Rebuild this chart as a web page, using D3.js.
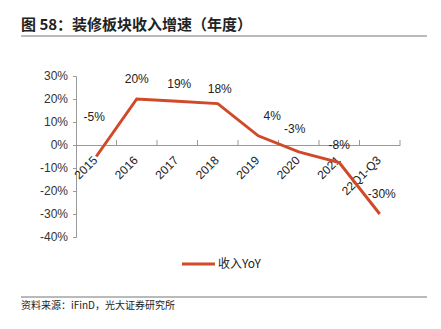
<!DOCTYPE html>
<html><head><meta charset="utf-8">
<script src="https://cdn.jsdelivr.net/npm/d3@7/dist/d3.min.js"></script>
<style>
body{margin:0;background:#fff;}
svg{display:block;font-family:"Liberation Sans",Arial,sans-serif;}
</style></head>
<body>
<svg id="c" width="441" height="329"></svg>
<script>
const categories = ["2015","2016","2017","2018","2019","2020","2021","22Q1-Q3"];
const revenueYoY = [-5, 20, 19, 18, 4, -3, -7.6, -30];
const yTicks = [30, 20, 10, 0, -10, -20, -30, -40];
const seriesName = "收入YoY";
const title = "图 58：装修板块收入增速（年度）";
const source = "资料来源：iFinD，光大证券研究所";
// label nudges (layout only): [dx, dy] relative to default position above point
const labelNudge = [[-2,-20],[0,0],[2,3],[2,5],[14,0],[-4,-3],[0,3],[2,0]];

const svg = d3.select("#c");
const color = "#D04A2A";

// title
svg.append("text").attr("x",21).attr("y",30).attr("font-size",15).attr("font-weight","bold")
  .attr("fill","#222").attr("font-family","'Noto Sans CJK SC',sans-serif").text(title);
svg.append("line").attr("x1",21).attr("x2",427).attr("y1",36).attr("y2",36)
  .attr("stroke","#777").attr("stroke-width",1.2);

const x = d3.scaleBand().domain(categories).range([76,400]);
const y = d3.scaleLinear().domain([-40,30]).range([237,76]);

const g = svg.append("g");
// y axis
const ya = g.append("g").attr("transform","translate(76,0)")
  .call(d3.axisLeft(y).tickValues(yTicks).tickSize(3).tickPadding(5).tickFormat(d=>d+"%"));
ya.select(".domain").attr("stroke","#999");
ya.selectAll(".tick line").attr("stroke","#999");
ya.selectAll("text").attr("font-size",12).attr("fill","#333").attr("font-family","'Liberation Sans',Arial,sans-serif");

// x axis at 0
const xa = g.append("g").attr("transform",`translate(0,${y(0)})`)
  .call(d3.axisTop(x).tickValues([]).tickSizeOuter(0));
xa.select(".domain").attr("stroke","#999");
const edges = categories.map(c=>x(c)+x.bandwidth());
xa.selectAll(".etick").data(edges).enter().append("line")
  .attr("x1",d=>d).attr("x2",d=>d).attr("y1",0).attr("y2",-5).attr("stroke","#999");
xa.selectAll(".xl").data(categories).enter().append("text")
  .attr("transform",d=>`translate(${x(d)+x.bandwidth()/2+2},${16}) rotate(-45)`)
  .attr("text-anchor","end").attr("font-size",12).attr("fill","#222")
  .text(d=>d);

// line
const line = d3.line().x((d,i)=>x(categories[i])+x.bandwidth()/2).y(d=>y(d));
g.append("path").datum(revenueYoY).attr("d",line).attr("fill","none")
  .attr("stroke",color).attr("stroke-width",3).attr("stroke-linejoin","miter");

// data labels
g.selectAll(".dl").data(revenueYoY).enter().append("text")
  .attr("x",(d,i)=>x(categories[i])+x.bandwidth()/2+labelNudge[i][0])
  .attr("y",(d,i)=>y(d)-16+labelNudge[i][1])
  .attr("text-anchor","middle").attr("font-size",12).attr("fill","#222")
  .text(d=>Math.round(d)+"%");

// legend
svg.append("line").attr("x1",182).attr("x2",215).attr("y1",264).attr("y2",264)
  .attr("stroke",color).attr("stroke-width",3);
svg.append("text").attr("x",218).attr("y",268).attr("font-size",12).attr("fill","#222")
  .attr("font-family","'Noto Sans CJK SC',sans-serif").text(seriesName);

// footer
svg.append("line").attr("x1",21).attr("x2",427).attr("y1",297).attr("y2",297)
  .attr("stroke","#777").attr("stroke-width",1.2);
svg.append("text").attr("x",21).attr("y",309).attr("font-size",10).attr("fill","#222")
  .attr("font-family","'Noto Sans CJK SC',sans-serif").text(source);
</script>
</body></html>
